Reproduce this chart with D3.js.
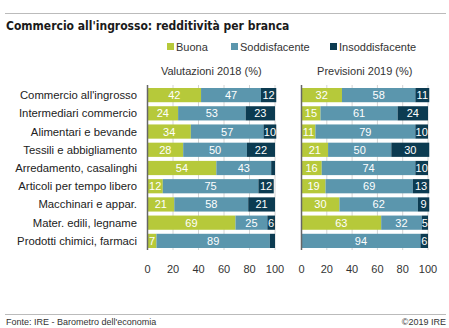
<!DOCTYPE html>
<html>
<head>
<meta charset="utf-8">
<script src="https://cdn.jsdelivr.net/npm/d3@7"></script>
<style>
  body { margin: 0; background: #fff; }
  text { font-family: "Liberation Sans", Arial, sans-serif; }
</style>
</head>
<body>
<div id="my_dataviz"></div>
<script>
// chart data
const categories = ["Commercio all'ingrosso", "Intermediari commercio", "Alimentari e bevande",
  "Tessili e abbigliamento", "Arredamento, casalinghi", "Articoli per tempo libero",
  "Macchinari e appar.", "Mater. edili, legname", "Prodotti chimici, farmaci"]
const seriesNames = ["Buona", "Soddisfacente", "Insoddisfacente"]
const buona2018 = [42, 24, 34, 28, 54, 12, 21, 69, 7]
const soddisf2018 = [47, 53, 57, 50, 43, 75, 58, 25, 89]
const insodd2018 = [12, 23, 10, 22, 3, 12, 21, 6, 4]
const buona2019 = [32, 15, 11, 21, 16, 19, 30, 63, 0]
const soddisf2019 = [58, 61, 79, 50, 74, 69, 62, 32, 94]
const insodd2019 = [11, 24, 10, 30, 10, 13, 9, 5, 6]
const ticks = [0, 20, 40, 60, 80, 100]

const width = 449
const height = 328
const colors = ["#b6c93a", "#5b96ad", "#0c3b51"]

const svg = d3.select("#my_dataviz")
  .append("svg")
    .attr("width", width)
    .attr("height", height)

// top rule and title
svg.append("line").attr("x1", 5).attr("x2", 446).attr("y1", 13.5).attr("y2", 13.5)
  .attr("stroke", "#bbb")
svg.append("text").attr("x", 6).attr("y", 30)
  .style("font-family", "'Liberation Sans Narrow', 'DejaVu Sans Condensed', sans-serif")
  .style("font-size", "12px").style("font-weight", "bold").attr("fill", "#1a1a1a")
  .text("Commercio all'ingrosso: redditività per branca")

// legend
const legendX = [167, 231, 330]
seriesNames.forEach((s, i) => {
  svg.append("rect").attr("x", legendX[i]).attr("y", 43).attr("width", 7).attr("height", 7)
    .attr("fill", colors[i])
  svg.append("text").attr("x", legendX[i] + 9).attr("y", 50.5)
    .style("font-size", "11px").attr("fill", "#333").text(s)
})

const y = d3.scaleBand().domain(categories).range([86, 250]).paddingInner(0.22).paddingOuter(0.11)

// category labels
svg.selectAll("text.cat")
  .data(categories)
  .join("text")
    .attr("class", "cat")
    .attr("x", 137)
    .attr("y", d => y(d) + y.bandwidth() / 2)
    .attr("dy", "0.35em")
    .attr("text-anchor", "end")
    .style("font-size", "11.3px")
    .attr("fill", "#222")
    .text(d => d)

function panel(x0, x1, title, series) {
  const x = d3.scaleLinear().domain([0, 100]).range([x0, x1])
  const g = svg.append("g")

  g.append("text").attr("x", (x0 + x1) / 2).attr("y", 75).attr("text-anchor", "middle")
    .style("font-size", "11px").attr("fill", "#333").text(title)

  // gridlines
  g.selectAll("line.grid").data(ticks.slice(1)).join("line")
    .attr("x1", d => x(d)).attr("x2", d => x(d))
    .attr("y1", 85).attr("y2", 250)
    .attr("stroke", "#d4d4d4")

  // stacked bars
  const rows = categories.map((c, i) => ({ cat: c, v: series.map(s => s[i]) }))
  rows.forEach(r => {
    let acc = 0
    r.v.forEach((v, k) => {
      const start = acc
      acc += v
      if (v <= 0) return
      g.append("rect")
        .attr("x", x(start)).attr("y", y(r.cat))
        .attr("width", x(acc) - x(start)).attr("height", y.bandwidth())
        .attr("fill", colors[k])
      if (v >= 5) {
        g.append("text")
          .attr("x", (x(start) + x(acc)) / 2)
          .attr("y", y(r.cat) + y.bandwidth() / 2)
          .attr("dy", "0.36em")
          .attr("text-anchor", "middle")
          .style("font-size", "11px")
          .attr("fill", "#fff")
          .text(v)
      }
    })
  })

  // axis line at zero
  g.append("line").attr("x1", x(0)).attr("x2", x(0)).attr("y1", 85).attr("y2", 250)
    .attr("stroke", "#666").attr("stroke-width", 1.5)

  g.selectAll("text.tick").data(ticks).join("text")
    .attr("x", d => x(d)).attr("y", 273)
    .attr("text-anchor", "middle")
    .style("font-size", "11px").attr("fill", "#333")
    .text(d => d)
}

panel(147.5, 275, "Valutazioni 2018 (%)", [buona2018, soddisf2018, insodd2018])
panel(301.5, 428, "Previsioni 2019 (%)", [buona2019, soddisf2019, insodd2019])

// footer
svg.append("line").attr("x1", 5).attr("x2", 446).attr("y1", 314.5).attr("y2", 314.5)
  .attr("stroke", "#bbb")
svg.append("text").attr("x", 6).attr("y", 325)
  .style("font-size", "9px").attr("fill", "#333").text("Fonte: IRE - Barometro dell'economia")
svg.append("text").attr("x", 446).attr("y", 325).attr("text-anchor", "end")
  .style("font-size", "9px").attr("fill", "#333").text("©2019 IRE")
</script>
</body>
</html>
